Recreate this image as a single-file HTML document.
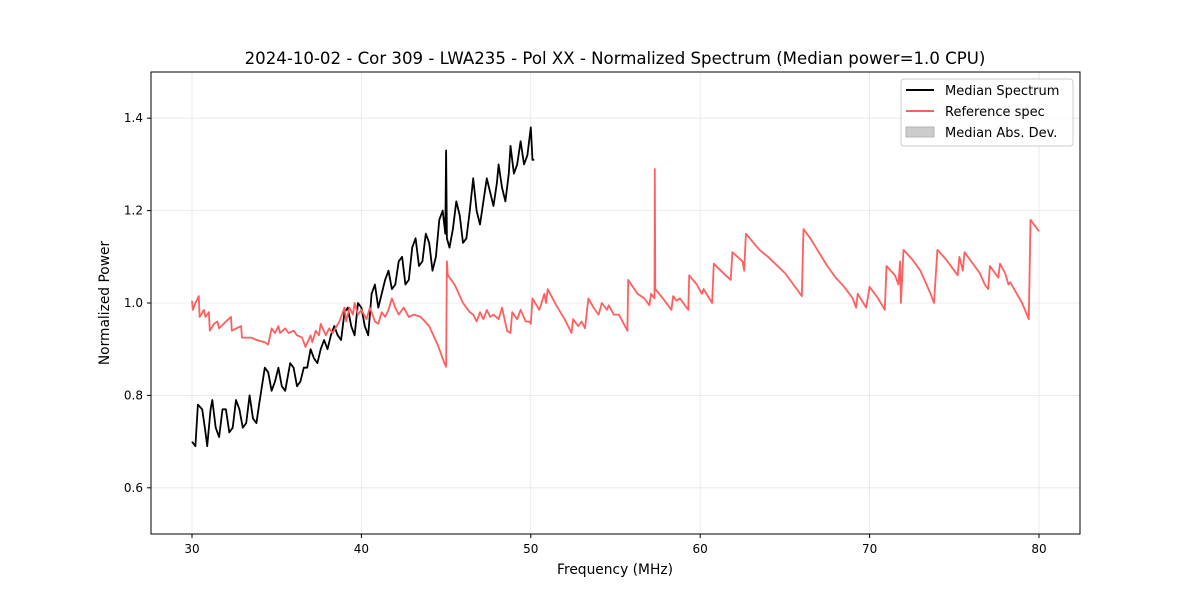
<!DOCTYPE html>
<html><head><meta charset="utf-8"><style>
body{margin:0;background:#fff;}
svg{font-family:"DejaVu Sans","Liberation Sans",sans-serif;}
</style></head><body>
<svg id="chart" width="1200" height="600" viewBox="0 0 1200 600">
<rect x="0" y="0" width="1200" height="600" fill="#fff"/>
<text x="615" y="64" font-size="16.6" text-anchor="middle" fill="#000">2024-10-02 - Cor 309 - LWA235 - Pol XX - Normalized Spectrum (Median power=1.0 CPU)</text>
<g id="grid"></g>
<g id="series"></g>
<rect x="151" y="72" width="929" height="462" fill="none" stroke="#000" stroke-width="1"/>
<g id="ticks"></g>
<text x="615" y="574" font-size="13.8" text-anchor="middle">Frequency (MHz)</text>
<text transform="translate(109,303) rotate(-90)" font-size="13.8" text-anchor="middle">Normalized Power</text>
<g>
<rect x="901" y="79" width="172" height="67" rx="3" fill="#fff" fill-opacity="0.8" stroke="#ccc"/>
<line x1="906" y1="90" x2="934" y2="90" stroke="#000" stroke-width="2"/>
<text x="945" y="95" font-size="13">Median Spectrum</text>
<line x1="906" y1="111" x2="934" y2="111" stroke="#ff5f5f" stroke-width="2"/>
<text x="945" y="116" font-size="13">Reference spec</text>
<rect x="906" y="127" width="28" height="10" fill="#ccc" stroke="#aaa" stroke-width="0.8"/>
<text x="945" y="137" font-size="13">Median Abs. Dev.</text>
</g>
</svg>
<script>
const xTicks=[30,40,50,60,70,80];
const yTicks=[0.6,0.8,1.0,1.2,1.4];
const yTickLabels=["0.6","0.8","1.0","1.2","1.4"];
const medFreq=[30.0,30.2,30.35,30.6,30.8,30.9,31.1,31.2,31.4,31.6,31.8,32.0,32.2,32.4,32.6,32.8,33.0,33.2,33.4,33.6,33.8,34.0,34.3,34.5,34.7,34.9,35.1,35.3,35.5,35.8,36.0,36.2,36.4,36.6,36.8,37.0,37.2,37.4,37.6,37.8,38.0,38.2,38.4,38.6,38.8,39.0,39.2,39.4,39.6,39.8,40.0,40.2,40.4,40.6,40.8,41.0,41.2,41.4,41.6,41.8,42.0,42.2,42.4,42.6,42.8,43.0,43.2,43.4,43.6,43.8,44.0,44.2,44.4,44.6,44.8,44.95,45.0,45.05,45.2,45.4,45.6,45.8,46.0,46.2,46.4,46.6,46.8,47.0,47.2,47.4,47.6,47.8,48.0,48.1,48.3,48.5,48.7,48.8,49.0,49.2,49.4,49.6,49.8,50.0,50.1,50.2];
const medVal=[0.70,0.69,0.78,0.77,0.72,0.69,0.77,0.79,0.73,0.71,0.77,0.77,0.72,0.73,0.79,0.77,0.73,0.74,0.80,0.75,0.74,0.79,0.86,0.85,0.81,0.83,0.86,0.82,0.81,0.87,0.86,0.82,0.83,0.86,0.86,0.90,0.88,0.87,0.90,0.92,0.90,0.93,0.95,0.93,0.92,0.98,0.99,0.95,0.93,1.00,0.99,0.95,0.93,1.02,1.04,0.99,1.02,1.05,1.07,1.03,1.04,1.09,1.10,1.04,1.05,1.12,1.14,1.08,1.09,1.15,1.13,1.07,1.10,1.18,1.20,1.15,1.33,1.14,1.12,1.16,1.22,1.19,1.13,1.14,1.20,1.27,1.20,1.17,1.22,1.27,1.24,1.21,1.26,1.30,1.25,1.22,1.28,1.34,1.28,1.30,1.35,1.30,1.32,1.38,1.31,1.31];
const refFreq=[30.0,30.05,30.2,30.4,30.45,30.7,30.8,31.0,31.05,31.3,31.5,31.6,32.0,32.3,32.35,32.9,32.95,33.5,33.8,34.3,34.5,34.7,34.9,35.1,35.2,35.5,35.7,36.0,36.2,36.5,36.7,37.0,37.1,37.3,37.5,37.6,37.9,38.1,38.3,38.7,39.0,39.1,39.3,39.5,39.6,39.8,40.0,40.3,40.5,40.8,41.0,41.2,41.4,41.6,41.8,42.0,42.2,42.4,42.5,42.8,43.1,43.5,44.0,44.5,44.9,45.0,45.05,45.1,45.5,46.0,46.4,46.6,46.8,47.0,47.2,47.4,47.6,47.8,48.1,48.3,48.6,48.8,48.9,49.2,49.4,49.7,49.9,50.0,50.1,50.5,50.8,50.9,51.0,51.5,52.0,52.4,52.5,52.8,53.0,53.2,53.4,53.7,54.0,54.2,54.5,54.6,54.9,55.2,55.7,55.75,56.3,56.7,57.0,57.1,57.3,57.32,57.35,57.8,58.1,58.3,58.4,58.6,58.8,59.3,59.35,59.8,60.1,60.2,60.7,60.8,61.5,61.8,61.9,62.2,62.5,62.6,62.7,63.5,64.0,65.0,65.8,66.0,66.1,66.5,67.0,67.5,68.0,68.5,69.0,69.2,69.3,69.8,70.0,70.5,70.9,71.0,71.5,71.7,71.8,71.85,72.0,72.5,73.0,73.6,73.8,74.0,74.5,75.0,75.2,75.3,75.5,75.6,76.0,76.5,76.8,77.0,77.1,77.6,77.7,78.0,78.2,78.3,79.0,79.4,79.5,80.0];
const refVal=[1.005,0.985,1.0,1.015,0.97,0.985,0.97,0.98,0.94,0.955,0.96,0.945,0.96,0.97,0.94,0.95,0.925,0.925,0.92,0.915,0.91,0.945,0.935,0.95,0.935,0.945,0.935,0.94,0.93,0.925,0.905,0.93,0.915,0.94,0.93,0.955,0.93,0.945,0.935,0.96,0.99,0.96,0.99,0.975,1.0,0.975,0.985,0.965,0.99,0.96,0.955,0.98,0.97,0.985,1.01,0.99,0.975,0.985,0.99,0.97,0.975,0.97,0.95,0.91,0.87,0.862,1.09,1.06,1.04,1.0,0.98,0.975,0.96,0.98,0.965,0.985,0.97,0.975,0.965,0.99,0.94,0.935,0.98,0.965,0.985,0.96,0.96,0.955,1.01,0.985,1.02,1.0,1.03,0.995,0.965,0.935,0.965,0.95,0.96,0.945,1.01,0.99,0.975,1.0,0.985,0.995,0.975,0.975,0.94,1.05,1.02,1.01,0.995,1.02,1.01,1.29,1.03,1.01,0.995,0.985,1.015,1.005,1.01,0.985,1.06,1.04,1.02,1.03,1.0,1.085,1.06,1.05,1.11,1.1,1.09,1.07,1.15,1.115,1.1,1.065,1.025,1.015,1.16,1.14,1.11,1.08,1.055,1.035,1.01,0.99,1.02,0.99,1.035,1.01,0.985,1.08,1.06,1.04,1.09,1.0,1.115,1.095,1.07,1.02,1.0,1.115,1.095,1.07,1.06,1.1,1.07,1.11,1.09,1.065,1.04,1.03,1.08,1.055,1.085,1.065,1.04,1.045,1.0,0.965,1.18,1.155];

const X0=151,X1=1080,Y0=534,Y1=72,XMIN=27.58,XMAX=82.42,YMIN=0.5,YMAX=1.5;
function xs(f){return X0+(f-XMIN)/(XMAX-XMIN)*(X1-X0);}
function ys(v){return Y0-(v-YMIN)/(YMAX-YMIN)*(Y0-Y1);}
const NS='http://www.w3.org/2000/svg';
const grid=document.getElementById('grid'),ticks=document.getElementById('ticks'),series=document.getElementById('series');
function mk(tag,attrs,parent){const e=document.createElementNS(NS,tag);for(const k in attrs)e.setAttribute(k,attrs[k]);parent.appendChild(e);return e;}
xTicks.forEach(t=>{
  const x=xs(t);
  const g=mk('line',{x1:x,x2:x,y1:Y1,y2:Y0,stroke:'#e6e6e6','stroke-width':0.8},grid);
  
  
  const tk=mk('line',{x1:x,x2:x,y1:Y0,y2:Y0+4,stroke:'#000'},ticks);
  
  
  const tx=mk('text',{x:x,y:Y0+19,'font-size':12,'text-anchor':'middle'},ticks);tx.textContent=String(t);
  
  
});
yTicks.forEach((t,i)=>{
  const y=ys(t);
  const g=mk('line',{x1:X0,x2:X1,y1:y,y2:y,stroke:'#e6e6e6','stroke-width':0.8},grid);
  
  
  const tk=mk('line',{x1:X0-4,x2:X0,y1:y,y2:y,stroke:'#000'},ticks);
  
  
  const tx=mk('text',{x:X0-8,y:y+4,'font-size':12,'text-anchor':'end'},ticks);tx.textContent=yTickLabels[i];
  
  
});
function path(fr,vals,color,name){
  const d=fr.map((f,i)=>(i?'L':'M')+xs(f).toFixed(1)+','+ys(vals[i]).toFixed(1)).join('');
  const p=mk('path',{d:d,fill:'none',stroke:color,'stroke-width':1.8,'stroke-linejoin':'round'},series);
  
  
}
path(medFreq,medVal,'#000','median-spectrum-line');
path(refFreq,refVal,'#ff5f5f','reference-spectrum-line');
</script>
</body></html>
